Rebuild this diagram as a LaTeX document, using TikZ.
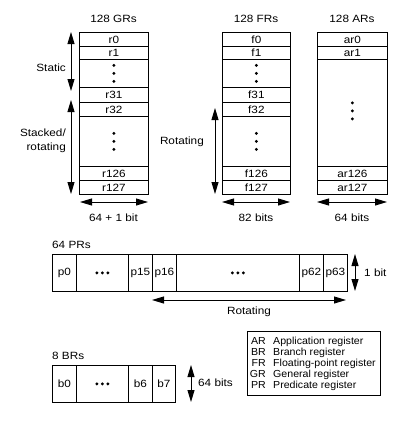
\documentclass[tikz,border=0pt]{standalone}
\usepackage{fontspec}
\setmainfont{Liberation Sans}[FakeStretch=1.12]
\newfontfamily\legfont{Liberation Sans}[FakeStretch=1.04]
\usetikzlibrary{arrows.meta}
\begin{document}
\begin{tikzpicture}[x=1pt,y=-1pt,
  txt/.style={font=\fontsize{10.5}{14}\selectfont, inner sep=0pt},
  legtxt/.style={font=\legfont\fontsize{10.2}{11}\selectfont, inner sep=0pt},
  cellbox/.style={draw, line width=0.8pt, inner sep=0pt, font=\fontsize{10.5}{12}\selectfont},
  dimarrow/.style={line width=0.9pt, {Triangle[length=12pt,width=7pt]}-{Triangle[length=12pt,width=7pt]}},
  dotm/.style={circle, fill, inner sep=0pt, minimum size=3.2pt}
]
\useasboundingbox (0,0) rectangle (412,431);

% ---------- GR and FR columns ----------
\foreach \c/\xl/\w/\p in {G/79/69/r, F/222/68/f}{
  \begin{scope}[every node/.style={cellbox, minimum width=\w pt, anchor=north west}]
    \node[minimum height=14pt] (\c-a) at (\xl,32) {\p0};
    \node[minimum height=13pt] (\c-b) at (\xl,46) {\p1};
    \node[minimum height=28pt] (\c-c) at (\xl,59) {};
    \node[minimum height=15pt] (\c-d) at (\xl,87) {\p31};
    \node[minimum height=14pt] (\c-e) at (\xl,102) {\p32};
    \node[minimum height=50pt] (\c-f) at (\xl,116) {};
    \node[minimum height=14pt] (\c-g) at (\xl,166) {\p126};
    \node[minimum height=14pt] (\c-h) at (\xl,180) {\p127};
  \end{scope}
  \foreach \dy in {-8,0,8}{
    \node[dotm] at ([yshift=\dy pt]\c-c.center) {};
    \node[dotm] at ([yshift=\dy pt]\c-f.center) {};
  }
}

% ---------- AR column ----------
\begin{scope}[every node/.style={cellbox, minimum width=70pt, anchor=north west}]
  \node[minimum height=14pt] (A-a) at (317,32) {ar0};
  \node[minimum height=13pt] (A-b) at (317,46) {ar1};
  \node[minimum height=107pt] (A-c) at (317,59) {};
  \node[minimum height=14pt] (A-g) at (317,166) {ar126};
  \node[minimum height=14pt] (A-h) at (317,180) {ar127};
\end{scope}
\foreach \dy in {-6,2,10}{
  \node[dotm] at ([yshift=\dy pt]A-c.center) {};
}

% ---------- titles ----------
\node[txt] (tG) at (113.5,19) {128 GRs};
\node[txt] (tF) at (256,19) {128 FRs};
\node[txt] (tA) at (352,19) {128 ARs};

% ---------- vertical arrows ----------
\coordinate (sT) at (71,32);  \coordinate (sB) at (71,91);
\coordinate (kT) at (71,100); \coordinate (kB) at (71,194);
\coordinate (fT) at (215,108); \coordinate (fB) at (215,194);
\draw[dimarrow] (sT) -- (sB);
\draw[dimarrow] (kT) -- (kB);
\draw[dimarrow] (fT) -- (fB);
\node[txt, anchor=east] (lStatic) at (66,68) {Static};
\node[txt, anchor=east, align=right] (lStacked) at (66,141) {Stacked/\\rotating};
\node[txt, anchor=east] (lRot) at (204,142) {Rotating};

% ---------- width arrows ----------
\coordinate (gL) at (80,202);  \coordinate (gR) at (148,202);
\coordinate (fL) at (222,202); \coordinate (fR) at (290,202);
\coordinate (aL) at (317,202); \coordinate (aR) at (387,202);
\draw[dimarrow] (gL) -- (gR);
\draw[dimarrow] (fL) -- (fR);
\draw[dimarrow] (aL) -- (aR);
\node[txt] (wG) at (113.5,218) {64 + 1 bit};
\node[txt] (wF) at (256,218) {82 bits};
\node[txt] (wA) at (352,218) {64 bits};

% ---------- PRs ----------
\node[txt, anchor=west] (tP) at (52,245) {64 PRs};
\begin{scope}[every node/.style={cellbox, minimum height=37pt, anchor=north west}]
  \node[minimum width=24pt]  (P0)  at (52,254)  {p0};
  \node[minimum width=52pt]  (Pd1) at (76,254)  {};
  \node[minimum width=24pt]  (P15) at (128,254) {p15};
  \node[minimum width=24pt]  (P16) at (152,254) {p16};
  \node[minimum width=123pt] (Pd2) at (176,254) {};
  \node[minimum width=24pt]  (P62) at (299,254) {p62};
  \node[minimum width=24pt]  (P63) at (323,254) {p63};
\end{scope}
\foreach \dx in {-5.5,0,5.5}{
  \node[dotm] at ([xshift=\dx pt]Pd1.center) {};
  \node[dotm] at ([xshift=\dx pt]Pd2.center) {};
}
\coordinate (pbT) at (355,254); \coordinate (pbB) at (355,291);
\draw[dimarrow] (pbT) -- (pbB);
\node[txt, anchor=west] (lbit) at (364,273) {1 bit};
\coordinate (prL) at (152,300); \coordinate (prR) at (346,300);
\draw[dimarrow] (prL) -- (prR);
\node[txt] (lPRot) at (249,312) {Rotating};

% ---------- BRs ----------
\node[txt, anchor=west] (tB) at (52,356) {8 BRs};
\begin{scope}[every node/.style={cellbox, minimum height=37pt, anchor=north west}]
  \node[minimum width=24pt] (B0) at (52,365)  {b0};
  \node[minimum width=52pt] (Bd) at (76,365)  {};
  \node[minimum width=24pt] (B6) at (128,365) {b6};
  \node[minimum width=23pt] (B7) at (152,365) {b7};
\end{scope}
\foreach \dx in {-5.5,0,5.5}{
  \node[dotm] at ([xshift=\dx pt]Bd.center) {};
}
\coordinate (bbT) at (191,365); \coordinate (bbB) at (191,402);
\draw[dimarrow] (bbT) -- (bbB);
\node[txt, anchor=west] (lbits) at (198,383) {64 bits};

% ---------- legend ----------
\node[draw, line width=0.8pt, minimum width=133pt, minimum height=64pt, anchor=north west, inner sep=0pt] (leg) at (247,331) {};
\foreach \ab/\de/\yy in {AR/Application register/341, BR/Branch register/352, FR/Floating-point register/363, GR/General register/374, PR/Predicate register/385}{
  \node[legtxt, anchor=base east] at (266,\yy+3.6) {\ab};
  \node[legtxt, anchor=base west] at (273,\yy+3.6) {\de};
}
\end{tikzpicture}
\end{document}
